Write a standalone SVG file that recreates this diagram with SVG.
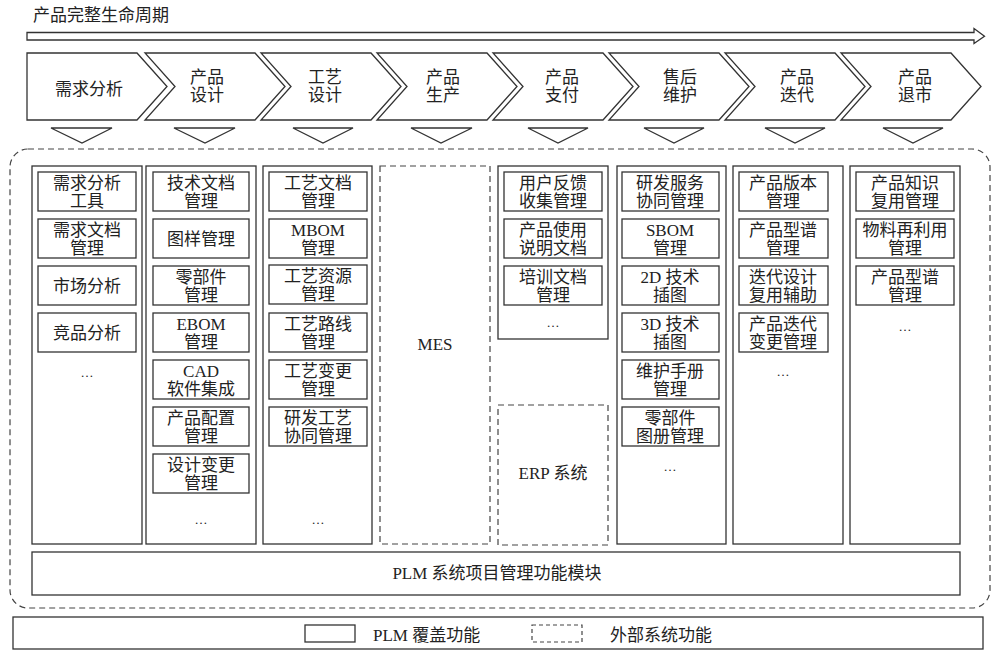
<svg xmlns="http://www.w3.org/2000/svg" width="1004" height="655" viewBox="0 0 1004 655">
<style>
text{font-family:"Liberation Serif","Noto Sans CJK SC",serif;font-size:17px;fill:#222;text-anchor:middle}
.t{text-anchor:start}
.s{fill:#fff;stroke:#333;stroke-width:1.3}
.d{fill:#fff;stroke:#444;stroke-width:1.2;stroke-dasharray:6 4}
.ch{fill:#fff;stroke:#333;stroke-width:1.3;stroke-linejoin:miter}
.el{font-size:13px}
</style>
<rect width="1004" height="655" fill="#fff"/>
<text class="t" x="33" y="21">产品完整生命周期</text>

<g id="connectors">
<path class="ch" d="M27,32.5 H974 V28.5 L984.5,36.2 L974,43.5 V40 H27 Z"/>
<path class="ch" d="M51,128 H112 L82,143 Z"/>
<path class="ch" d="M174,128 H235 L205,143 Z"/>
<path class="ch" d="M293,128 H353 L323,143 Z"/>
<path class="ch" d="M411,128 H472 L441,143 Z"/>
<path class="ch" d="M528,128 H588 L558,143 Z"/>
<path class="ch" d="M644,128 H704 L674,143 Z"/>
<path class="ch" d="M765,128 H825 L795,143 Z"/>
<path class="ch" d="M883,128 H943 L913,143 Z"/>
</g>

<g id="stage1"><path class="ch" d="M27,53 H137 L167,86.5 L137,120 H27 Z"/><text x="89" y="95">需求分析</text></g>
<g id="stage2"><path class="ch" d="M145,53 H255 L285,86.5 L255,120 H145 L175,86.5 Z"/><text x="207" y="83">产品</text><text x="207" y="101">设计</text></g>
<g id="stage3"><path class="ch" d="M261,53 H371 L401,86.5 L371,120 H261 L291,86.5 Z"/><text x="325" y="83">工艺</text><text x="325" y="101">设计</text></g>
<g id="stage4"><path class="ch" d="M377,53 H487 L517,86.5 L487,120 H377 L407,86.5 Z"/><text x="443" y="83">产品</text><text x="443" y="101">生产</text></g>
<g id="stage5"><path class="ch" d="M493,53 H603 L633,86.5 L603,120 H493 L523,86.5 Z"/><text x="562" y="83">产品</text><text x="562" y="101">支付</text></g>
<g id="stage6"><path class="ch" d="M609,53 H719 L749,86.5 L719,120 H609 L639,86.5 Z"/><text x="680" y="83">售后</text><text x="680" y="101">维护</text></g>
<g id="stage7"><path class="ch" d="M725,53 H835 L865,86.5 L835,120 H725 L755,86.5 Z"/><text x="797" y="83">产品</text><text x="797" y="101">迭代</text></g>
<g id="stage8"><path class="ch" d="M841,53 H951 L981,86.5 L951,120 H841 L871,86.5 Z"/><text x="915" y="83">产品</text><text x="915" y="101">退市</text></g>

<g id="plm-area"><rect class="d" x="10" y="149" width="980" height="459" rx="18" fill="none"/></g>

<g id="col1">
<rect class="s" x="32" y="166" width="110" height="378"/>
<rect class="s" x="38" y="172" width="98" height="39"/><text x="87" y="189">需求分析</text><text x="87" y="207">工具</text>
<rect class="s" x="38" y="219" width="98" height="39"/><text x="87" y="236">需求文档</text><text x="87" y="254">管理</text>
<rect class="s" x="38" y="266" width="98" height="39"/><text x="87" y="292">市场分析</text>
<rect class="s" x="38" y="313" width="98" height="39"/><text x="87" y="339">竞品分析</text>
<text class="el" x="87" y="377">…</text>
</g>

<g id="col2">
<rect class="s" x="146" y="166" width="110" height="378"/>
<rect class="s" x="153" y="172" width="96" height="39"/><text x="201" y="189">技术文档</text><text x="201" y="207">管理</text>
<rect class="s" x="153" y="219" width="96" height="39"/><text x="201" y="245">图样管理</text>
<rect class="s" x="153" y="266" width="96" height="39"/><text x="201" y="283">零部件</text><text x="201" y="301">管理</text>
<rect class="s" x="153" y="313" width="96" height="39"/><text x="201" y="330">EBOM</text><text x="201" y="348">管理</text>
<rect class="s" x="153" y="360" width="96" height="39"/><text x="201" y="377">CAD</text><text x="201" y="395">软件集成</text>
<rect class="s" x="153" y="407" width="96" height="39"/><text x="201" y="424">产品配置</text><text x="201" y="442">管理</text>
<rect class="s" x="153" y="454" width="96" height="39"/><text x="201" y="471">设计变更</text><text x="201" y="489">管理</text>
<text class="el" x="201" y="524">…</text>
</g>

<g id="col3">
<rect class="s" x="263" y="166" width="109" height="378"/>
<rect class="s" x="269" y="172" width="98" height="39"/><text x="318" y="189">工艺文档</text><text x="318" y="207">管理</text>
<rect class="s" x="269" y="219" width="98" height="39"/><text x="318" y="236">MBOM</text><text x="318" y="254">管理</text>
<rect class="s" x="269" y="265" width="98" height="39"/><text x="318" y="282">工艺资源</text><text x="318" y="300">管理</text>
<rect class="s" x="269" y="313" width="98" height="39"/><text x="318" y="330">工艺路线</text><text x="318" y="348">管理</text>
<rect class="s" x="269" y="360" width="98" height="39"/><text x="318" y="377">工艺变更</text><text x="318" y="395">管理</text>
<rect class="s" x="269" y="407" width="98" height="39"/><text x="318" y="424">研发工艺</text><text x="318" y="442">协同管理</text>
<text class="el" x="318" y="524">…</text>
</g>

<g id="mes"><rect class="d" x="380" y="166" width="110" height="378"/><text x="435" y="350">MES</text></g>

<g id="col5">
<rect class="s" x="498" y="166" width="110" height="173"/>
<rect class="s" x="504" y="172" width="98" height="39"/><text x="553" y="189">用户反馈</text><text x="553" y="207">收集管理</text>
<rect class="s" x="504" y="219" width="98" height="39"/><text x="553" y="236">产品使用</text><text x="553" y="254">说明文档</text>
<rect class="s" x="504" y="266" width="98" height="39"/><text x="553" y="283">培训文档</text><text x="553" y="301">管理</text>
<text class="el" x="553" y="327">…</text>
</g>

<g id="erp"><rect class="d" x="498" y="405" width="110" height="140"/><text x="553" y="479">ERP 系统</text></g>

<g id="col6">
<rect class="s" x="617" y="166" width="109" height="378"/>
<rect class="s" x="622" y="172" width="97" height="39"/><text x="670" y="189">研发服务</text><text x="670" y="207">协同管理</text>
<rect class="s" x="622" y="219" width="97" height="39"/><text x="670" y="236">SBOM</text><text x="670" y="254">管理</text>
<rect class="s" x="622" y="266" width="97" height="39"/><text x="670" y="283">2D 技术</text><text x="670" y="301">插图</text>
<rect class="s" x="622" y="313" width="97" height="39"/><text x="670" y="330">3D 技术</text><text x="670" y="348">插图</text>
<rect class="s" x="622" y="360" width="97" height="39"/><text x="670" y="377">维护手册</text><text x="670" y="395">管理</text>
<rect class="s" x="622" y="407" width="97" height="39"/><text x="670" y="424">零部件</text><text x="670" y="442">图册管理</text>
<text class="el" x="670" y="471">…</text>
</g>

<g id="col7">
<rect class="s" x="733" y="166" width="110" height="378"/>
<rect class="s" x="739" y="172" width="89" height="39"/><text x="783" y="189">产品版本</text><text x="783" y="207">管理</text>
<rect class="s" x="739" y="219" width="89" height="39"/><text x="783" y="236">产品型谱</text><text x="783" y="254">管理</text>
<rect class="s" x="739" y="266" width="89" height="39"/><text x="783" y="283">迭代设计</text><text x="783" y="301">复用辅助</text>
<rect class="s" x="739" y="313" width="89" height="39"/><text x="783" y="330">产品迭代</text><text x="783" y="348">变更管理</text>
<text class="el" x="783" y="376">…</text>
</g>

<g id="col8">
<rect class="s" x="850" y="166" width="110" height="378"/>
<rect class="s" x="856" y="172" width="98" height="39"/><text x="905" y="189">产品知识</text><text x="905" y="207">复用管理</text>
<rect class="s" x="856" y="219" width="98" height="39"/><text x="905" y="236">物料再利用</text><text x="905" y="254">管理</text>
<rect class="s" x="856" y="266" width="98" height="39"/><text x="905" y="283">产品型谱</text><text x="905" y="301">管理</text>
<text class="el" x="905" y="331">…</text>
</g>

<g id="plm-bar"><rect class="s" x="32" y="552" width="928" height="43"/><text x="497" y="579">PLM 系统项目管理功能模块</text></g>

<g id="legend">
<rect class="s" x="13" y="617" width="970" height="32"/>
<rect class="s" x="305" y="625" width="50" height="17"/>
<text class="t" x="373" y="641">PLM 覆盖功能</text>
<rect class="d" x="532" y="625" width="50" height="17" style="stroke-dasharray:4 3"/>
<text class="t" x="610" y="641">外部系统功能</text>
</g>
</svg>
